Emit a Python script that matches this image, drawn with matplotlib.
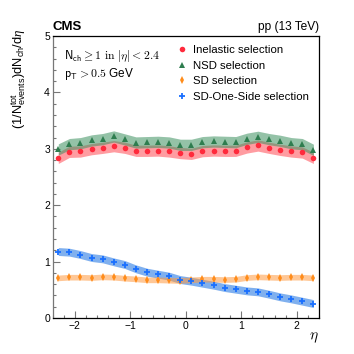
import matplotlib
matplotlib.use("Agg")
import matplotlib.pyplot as plt
from matplotlib.ticker import MultipleLocator

plt.rcParams['font.family'] = ['Liberation Sans', 'DejaVu Sans']
plt.rcParams['mathtext.fontset'] = 'custom'
plt.rcParams['mathtext.rm'] = 'Liberation Sans'
plt.rcParams['mathtext.sf'] = 'Liberation Sans'
plt.rcParams['mathtext.it'] = 'Liberation Serif:italic'

eta = [-2.3, -2.1, -1.9, -1.7, -1.5, -1.3, -1.1, -0.9, -0.7, -0.5, -0.3, -0.1,
       0.1, 0.3, 0.5, 0.7, 0.9, 1.1, 1.3, 1.5, 1.7, 1.9, 2.1, 2.3]

inelastic = [2.84, 2.947, 2.953, 2.994, 3.018, 3.047, 3.018, 2.965, 2.965, 2.970, 2.953, 2.925,
             2.911, 2.959, 2.970, 2.965, 2.965, 3.024, 3.059, 3.018, 2.982, 2.953, 2.935, 2.84]
inelastic_err = [0.10] * 24

nsd = [2.988, 3.083, 3.100, 3.148, 3.172, 3.219, 3.166, 3.112, 3.118, 3.124, 3.112, 3.071,
       3.071, 3.118, 3.130, 3.124, 3.118, 3.178, 3.213, 3.172, 3.142, 3.100, 3.083, 2.982]
nsd_err = [0.10] * 24

sd = [0.710, 0.722, 0.722, 0.716, 0.728, 0.722, 0.704, 0.692, 0.675, 0.675, 0.669, 0.663,
      0.675, 0.686, 0.686, 0.680, 0.686, 0.716, 0.728, 0.722, 0.716, 0.722, 0.722, 0.710]
sd_err = [0.05] * 24

sd_one = [1.178, 1.166, 1.124, 1.071, 1.047, 0.994, 0.947, 0.870, 0.811, 0.775, 0.740, 0.680,
          0.651, 0.615, 0.580, 0.538, 0.509, 0.479, 0.462, 0.420, 0.373, 0.337, 0.296, 0.254]
sd_one_err = [0.07] * 24

labels = ["Inelastic selection", "NSD selection", "SD selection", "SD-One-Side selection"]

fig = plt.figure(figsize=(3.54, 3.54), dpi=100)
ax = fig.add_axes([0.149, 0.102, 0.752, 0.796])

def band(y, e, color, alpha, z):
    lo = [a - b for a, b in zip(y, e)]
    hi = [a + b for a, b in zip(y, e)]
    ax.fill_between(eta, lo, hi, color=color, alpha=alpha, lw=0, zorder=z)

band(inelastic, inelastic_err, '#ff5a63', 0.6, 1)
band(nsd, nsd_err, '#3d9160', 0.55, 2)
band(sd_one, sd_one_err, '#4a8fe8', 0.7, 1)
band(sd, sd_err, '#ff9a40', 0.55, 2)

h1, = ax.plot(eta, inelastic, 'o', color='#ff2a3c', ms=4.0, mew=0, zorder=5)
h2, = ax.plot(eta, nsd, '^', color='#2e7d4f', ms=4.2, mew=0, zorder=5)
h3, = ax.plot(eta, sd, 'd', color='#ff8c1a', ms=4.2, mew=0, zorder=5)
h4, = ax.plot(eta, sd_one, '+', color='#1a6fff', ms=4.0, mew=1.3, zorder=5)

ax.set_xlim(-2.4, 2.4)
ax.set_ylim(0, 5)
ax.xaxis.set_major_locator(MultipleLocator(1))
ax.xaxis.set_minor_locator(MultipleLocator(0.2))
ax.yaxis.set_major_locator(MultipleLocator(1))
ax.yaxis.set_minor_locator(MultipleLocator(0.2))
ax.tick_params(which='both', direction='in', top=False, right=False,
               color='#777777', labelsize=7.5, pad=2)
ax.tick_params(which='major', length=5, width=0.8)
ax.tick_params(which='minor', length=2.5, width=0.8)
for s in ['top', 'right', 'bottom']:
    ax.spines[s].set_color('black')
    ax.spines[s].set_linewidth(0.9)
ax.spines['left'].set_color('#777777')
ax.spines['left'].set_linewidth(0.9)

ax.set_ylabel(r'$(1/\mathrm{N}_{\mathrm{events}}^{\mathrm{tot}})\mathrm{dN}_{\mathrm{ch}}/\mathrm{d}\eta$',
              fontsize=9.3, loc='top', math_fontfamily='custom')
ax.yaxis.set_label_coords(-0.093, 1.028)
ax.set_xlabel(r'$\eta$', fontsize=11, loc='right', math_fontfamily='cm', labelpad=0)

ax.text(0, 1.012, 'CMS', transform=ax.transAxes, ha='left', va='bottom',
        fontsize=9.5, fontweight='bold')
ax.text(1, 1.012, 'pp (13 TeV)', transform=ax.transAxes, ha='right', va='bottom',
        fontsize=8.6)

ax.text(0.042, 0.93, r'$\mathsf{N}_{\mathsf{ch}} \geq 1\ \mathrm{in}\ |\eta| < 2.4$',
        transform=ax.transAxes, ha='left', va='center', fontsize=8.5, math_fontfamily='cm')
ax.text(0.042, 0.866, r'$\mathsf{p}_{\mathsf{T}} > 0.5$ GeV',
        transform=ax.transAxes, ha='left', va='center', fontsize=8.5, math_fontfamily='cm')

ax.legend([h1, h2, h3, h4], labels, loc='upper left', bbox_to_anchor=(0.455, 0.977),
          frameon=False, fontsize=8.2, handlelength=1.0, handletextpad=0.5,
          labelspacing=0.5, borderaxespad=0, borderpad=0.2)

fig.savefig('out.png', dpi=100)
